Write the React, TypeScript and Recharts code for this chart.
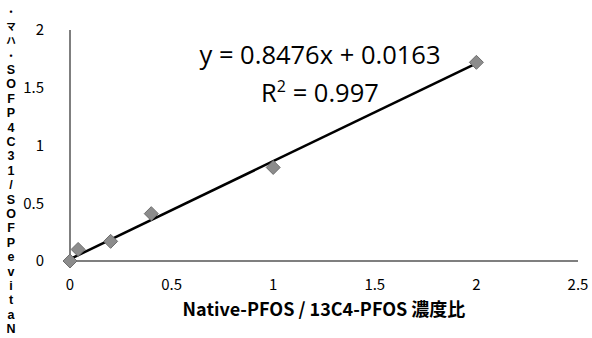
import { ScatterChart, Scatter, XAxis, YAxis } from "recharts";

const concRatio = [0, 0.04, 0.2, 0.4, 1, 2];
const areaRatio = [0, 0.1, 0.17, 0.41, 0.81, 1.72];
const xTicks = [0, 0.5, 1, 1.5, 2, 2.5];
const yTicks = [0, 0.5, 1, 1.5, 2];

// trendline coefficients shown in the chart
const slope = 0.8476;
const intercept = 0.0163;
const trendRange = [0, 2];

// vertical y label, drawn one glyph per row (top to bottom)
const yLabelChars = ["・", "マ", "ハ", "・", "S", "O", "F", "P", "4", "C", "3", "1", "/", "S", "O", "F", "P", "e", "v", "i", "t", "a", "N"];

const points = concRatio.map((x, i) => ({ x, y: areaRatio[i] }));
const trend = trendRange.map((x) => ({ x, y: slope * x + intercept }));

const Diamond = (props: any) => {
  const { cx, cy } = props;
  const r = 7;
  return (
    <polygon
      points={`${cx},${cy - r} ${cx + r},${cy} ${cx},${cy + r} ${cx - r},${cy}`}
      fill="#8c8c8c"
      stroke="#6e6e6e"
      strokeWidth={1}
    />
  );
};

const isWide = (c: string) => c.charCodeAt(0) > 255;

const YLabel = () => {
  const top = 12;
  const step = 14.4;
  return (
    <g>
      {yLabelChars.map((c, i) => (
        <text
          key={i}
          x={11}
          y={top + i * step}
          dy="0.35em"
          textAnchor="middle"
          fontSize={isWide(c) ? 9.5 : 12.5}
          fontWeight="bold"
          fontFamily={isWide(c) ? "'Noto Sans CJK JP', sans-serif" : "'Liberation Sans', sans-serif"}
          fill="#000"
        >
          {c}
        </text>
      ))}
    </g>
  );
};

const App = () => {
  return (
    <div style={{ position: "absolute", left: 0, top: 0, width: 592, height: 338, background: "#fff" }}>
      <ScatterChart width={592} height={338} margin={{ top: 30, right: 14, bottom: 0, left: 0 }}>
        <XAxis
          type="number"
          dataKey="x"
          domain={[0, 2.5]}
          ticks={xTicks}
          tickLine={false}
          axisLine={{ stroke: "#555", strokeWidth: 1.5 }}
          tick={{ fontSize: 15, fill: "#000", fontFamily: "'Noto Sans CJK JP', sans-serif" }}
          tickMargin={12}
          height={77}
          label={{
            value: "Native-PFOS / 13C4-PFOS 濃度比",
            position: "insideBottom",
            offset: 22,
            fontSize: 18,
            fontWeight: "bold",
            fill: "#000",
            fontFamily: "'Noto Sans CJK JP', sans-serif",
          }}
        />
        <YAxis
          type="number"
          dataKey="y"
          domain={[0, 2]}
          ticks={yTicks}
          tickLine={false}
          axisLine={{ stroke: "#555", strokeWidth: 1.5 }}
          tick={{ fontSize: 15, fill: "#000", fontFamily: "'Noto Sans CJK JP', sans-serif" }}
          tickMargin={20}
          width={70}
          label={<YLabel />}
        />
        <Scatter data={trend} line={{ stroke: "#000", strokeWidth: 2.5 }} shape={() => null} isAnimationActive={false} />
        <Scatter data={points} shape={<Diamond />} isAnimationActive={false} />
        <text x={320} y={55} dy="0.35em" textAnchor="middle" fontSize={25.5} fontFamily="'Open Sans', Lato, sans-serif" fill="#000">
          y = 0.8476x + 0.0163
        </text>
        <text x={320} y={93} dy="0.35em" textAnchor="middle" fontSize={25.5} fontFamily="'Open Sans', Lato, sans-serif" fill="#000">
          R<tspan dy="-10" fontSize={16}>2</tspan><tspan dy="10"> = 0.997</tspan>
        </text>
      </ScatterChart>
    </div>
  );
};

export default App;
